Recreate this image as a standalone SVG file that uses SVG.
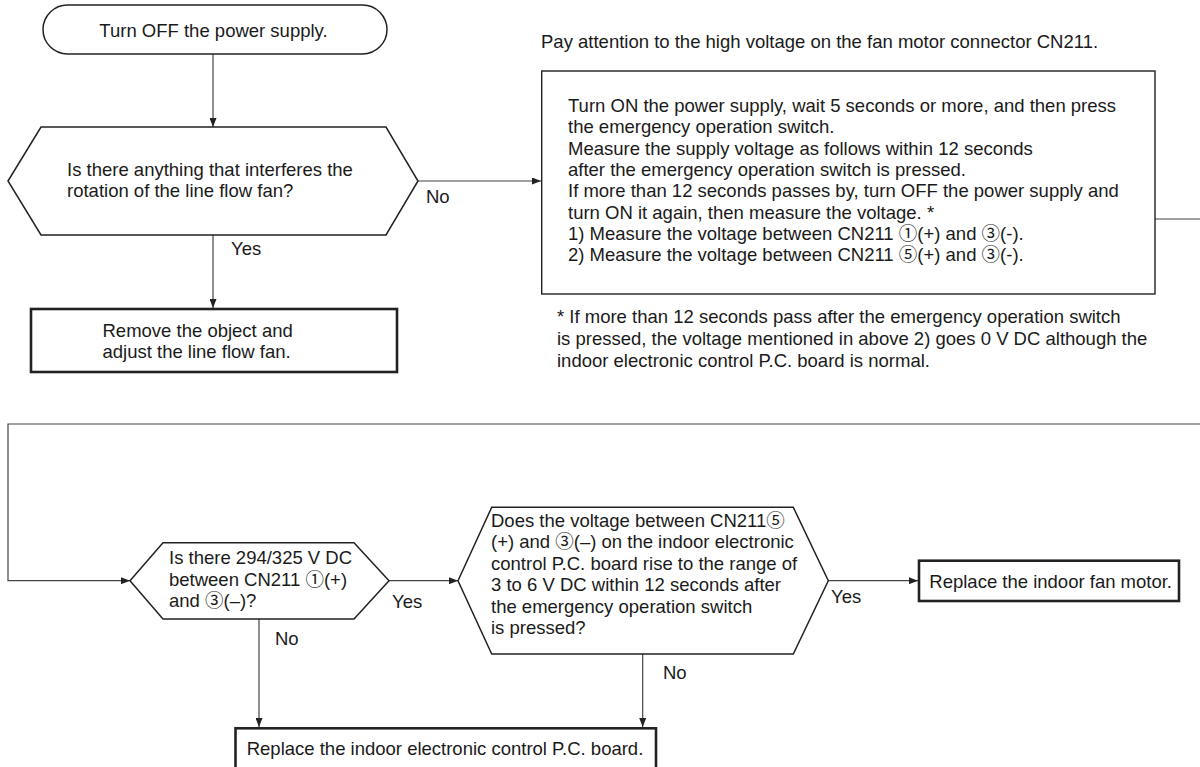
<svg xmlns="http://www.w3.org/2000/svg" width="1200" height="767" viewBox="0 0 1200 767">
<defs>
<marker id="ah" markerUnits="userSpaceOnUse" markerWidth="9" markerHeight="7" refX="9" refY="3.5" orient="auto">
<path d="M0,0 L9,3.5 L0,7 z" fill="#222"/>
</marker>
<style>
text{font-family:"Liberation Sans",Arial,"Noto Sans CJK JP",sans-serif;font-size:18.5px;fill:#1a1a1a}
.c{text-anchor:middle}
.term{fill:#fff;stroke:#222;stroke-width:1.5}
.dec{fill:#fff;stroke:#222;stroke-width:1.5}
.proc{fill:#fff;stroke:#222;stroke-width:2.6}
.box{fill:#fff;stroke:#222;stroke-width:1.4}
.conn line,.conn polyline{fill:none;stroke:#444;stroke-width:1.2}
.arr{marker-end:url(#ah)}
</style>
</defs>
<rect width="1200" height="767" fill="#fff"/>

<g id="connectors" class="conn">
<line class="arr" x1="213" y1="54" x2="213" y2="127"/>
<line class="arr" x1="418" y1="181" x2="541" y2="181"/>
<line class="arr" x1="213" y1="235" x2="213" y2="308"/>
<line x1="1155" y1="219" x2="1202" y2="219"/>
<polyline class="arr" points="1202,424 8,424 8,580.7 130,580.7"/>
<line class="arr" x1="389" y1="580.7" x2="458" y2="580.7"/>
<line class="arr" x1="259" y1="619" x2="259" y2="727"/>
<line class="arr" x1="828" y1="580.7" x2="918" y2="580.7"/>
<line class="arr" x1="642.7" y1="654" x2="642.7" y2="727"/>
</g>

<g id="labels">
<text x="426" y="203">No</text>
<text x="231" y="255">Yes</text>
<text x="392" y="608">Yes</text>
<text x="275" y="645">No</text>
<text x="831" y="603">Yes</text>
<text x="663" y="679">No</text>
</g>

<g id="start">
<rect class="term" x="43" y="5" width="344" height="49" rx="24.5"/>
<text class="c" x="213.5" y="36.5">Turn OFF the power supply.</text>
</g>

<g id="q1">
<polygon class="dec" points="8,181 41,127 386,127 418,181 386,235 41,235"/>
<text x="67" y="176">Is there anything that interferes the</text>
<text x="67" y="197">rotation of the line flow fan?</text>
</g>

<g id="remove">
<rect class="proc" x="31" y="309" width="366" height="63"/>
<text x="102.5" y="336.5">Remove the object and</text>
<text x="102.5" y="358">adjust the line flow fan.</text>
</g>

<g id="note-top">
<text x="541" y="48">Pay attention to the high voltage on the fan motor connector CN211.</text>
</g>

<g id="measure">
<rect class="box" x="541.7" y="71" width="613.3" height="223"/>
<text x="568" y="112">Turn ON the power supply, wait 5 seconds or more, and then press</text>
<text x="568" y="133.3">the emergency operation switch.</text>
<text x="568" y="154.6">Measure the supply voltage as follows within 12 seconds</text>
<text x="568" y="175.9">after the emergency operation switch is pressed.</text>
<text x="568" y="197.2">If more than 12 seconds passes by, turn OFF the power supply and</text>
<text x="568" y="218.5">turn ON it again, then measure the voltage. *</text>
<text x="568" y="239.8">1) Measure the voltage between CN211 ①(+) and ③(-).</text>
<text x="568" y="261.1">2) Measure the voltage between CN211 ⑤(+) and ③(-).</text>
</g>

<g id="note-bottom">
<text x="557" y="323">* If more than 12 seconds pass after the emergency operation switch</text>
<text x="557" y="345">is pressed, the voltage mentioned in above 2) goes 0 V DC although the</text>
<text x="557" y="366.5">indoor electronic control P.C. board is normal.</text>
</g>

<g id="q2">
<polygon class="dec" points="130,580.7 163,542.7 354,542.7 389,580.7 354,619 163,619"/>
<text x="169" y="564">Is there 294/325 V DC</text>
<text x="169" y="585.5">between CN211 ①(+)</text>
<text x="169" y="607">and ③(–)?</text>
</g>

<g id="q3">
<polygon class="dec" points="458,580.7 491.7,507.3 793.3,507.3 828.3,580.7 793.3,654 491.7,654"/>
<text x="491" y="526.5">Does the voltage between CN211⑤</text>
<text x="491" y="548">(+) and ③(–) on the indoor electronic</text>
<text x="491" y="569.6">control P.C. board rise to the range of</text>
<text x="491" y="591.2">3 to 6 V DC within 12 seconds after</text>
<text x="491" y="612.8">the emergency operation switch</text>
<text x="491" y="634.4">is pressed?</text>
</g>

<g id="fanmotor">
<rect class="proc" x="919" y="560.7" width="260" height="40.3"/>
<text x="929.3" y="588">Replace the indoor fan motor.</text>
</g>

<g id="pcboard">
<rect class="proc" x="235.5" y="728.3" width="420.5" height="50"/>
<text x="246.7" y="755">Replace the indoor electronic control P.C. board.</text>
</g>
</svg>
